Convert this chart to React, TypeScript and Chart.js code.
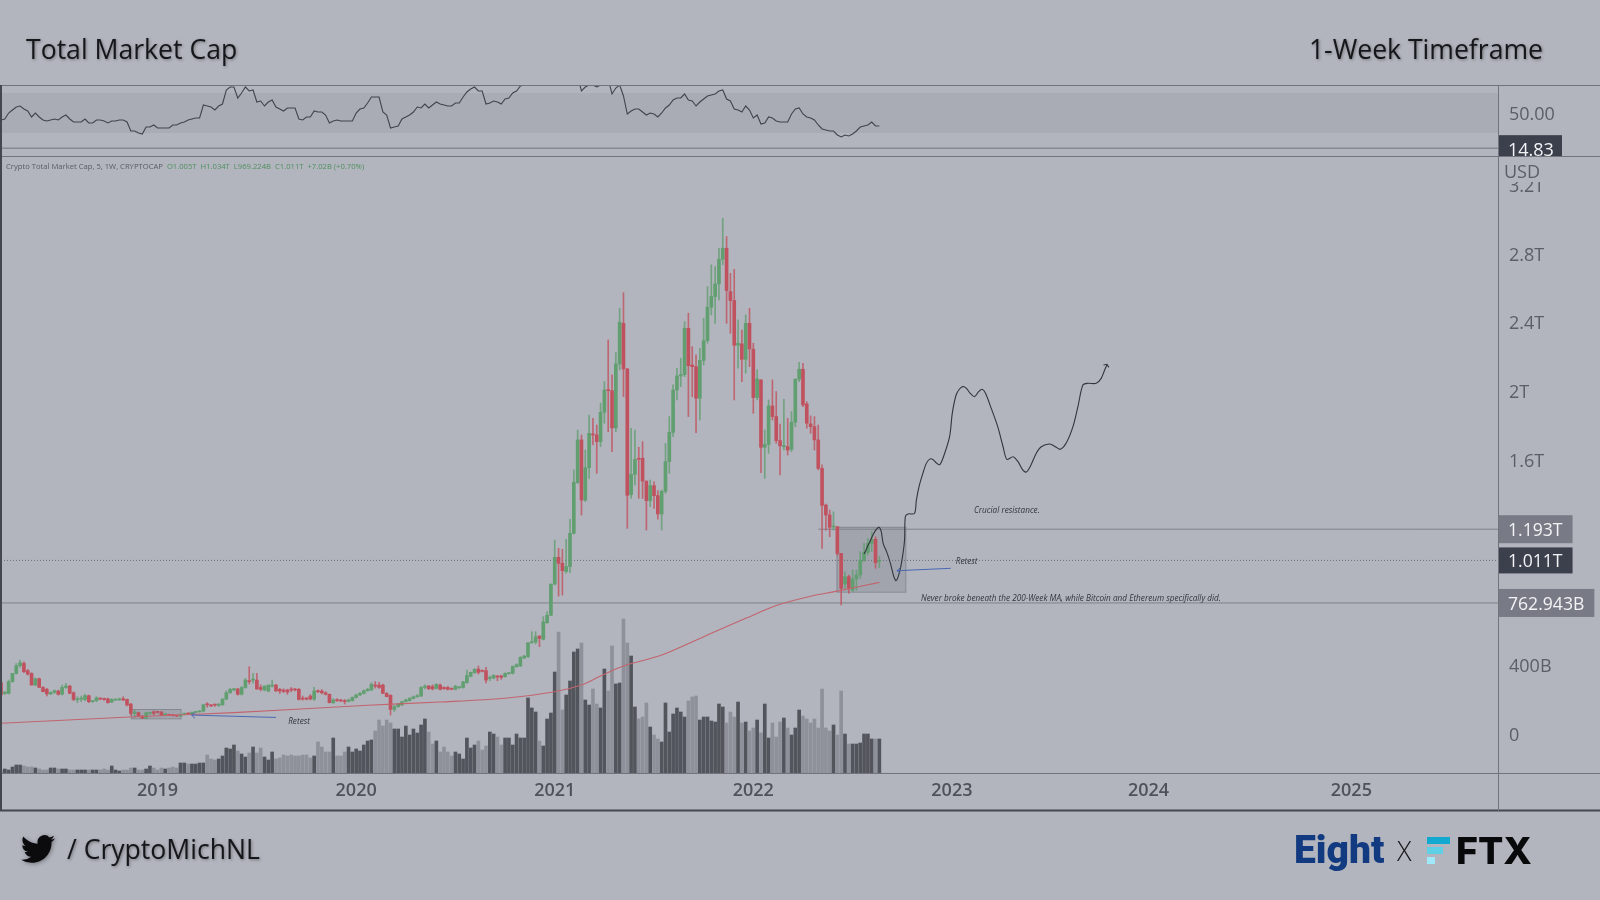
import React, { useEffect, useRef } from "react";
import { Chart, registerables } from "chart.js";

Chart.register(...registerables);

const opens = [
  298,235,235,304,352,397,410,368,352,284,
  321,270,259,232,241,249,230,270,278,239,
  198,202,200,222,187,193,206,204,204,185,
  197,197,204,200,173,119,123,103,90,119,
  128,128,127,111,111,109,106,103,113,119,
  115,125,128,132,172,167,169,165,169,202,
  239,255,261,230,270,309,313,313,270,255,
  249,278,284,259,255,255,259,259,259,206,
  206,220,202,249,249,239,230,181,197,
  197,193,189,193,212,226,235,251,255,
  284,284,284,235,224,142,158,167,187,193,
  206,216,220,270,278,275,265,284,270,270,262,259,
  268,270,298,335,356,377,368,368,323,325,
  337,337,333,350,352,391,395,442,449,531,
  535,570,551,648,691,873,1029,994,947,975,
  1169,1465,1714,1363,1552,1749,1743,1704,1875,2007,
  2001,1784,2157,2394,2128,1395,1513,1607,1607,1474,
  1360,1447,1389,1282,1414,1587,1758,2005,2087,2095,
  2365,2151,2141,1957,2178,2293,2488,2550,2624,2768,
  2832,2579,2527,2266,2274,2184,2394,2243,1961,2064,
  1671,1688,1912,1850,1710,1675,1675,1659,1817,2068,
  2126,1924,1807,1791,1714,1548,1334,1276,1206,1208,
  1052,873,916,838,902,926,1013,1058,1110,1134,1005,
];
const highs = [
  304,245,313,352,410,430,420,375,356,325,
  325,275,265,245,256,255,284,294,282,245,
  216,220,230,226,195,216,210,208,208,205,
  202,208,216,202,177,138,127,108,123,127,
  134,131,130,118,115,112,109,115,122,122,
  128,131,135,172,181,172,173,175,205,250,
  265,265,265,275,323,391,352,352,285,280,
  284,313,288,265,262,260,270,265,265,220,
  212,228,270,256,258,245,232,205,205,
  200,200,202,215,232,242,255,265,298,
  304,300,290,240,228,165,178,190,202,212,
  220,230,275,285,282,285,292,290,274,276,266,282,
  276,305,372,360,381,395,372,387,337,345,
  340,342,355,358,395,408,450,458,531,595,
  595,572,683,712,873,1130,1082,1076,1134,1251,
  1539,1772,1743,1655,1859,1840,1801,1928,2054,2297,
  2093,2223,2482,2573,2132,1782,1772,1671,1704,1474,
  1480,1470,1418,1422,1694,1850,2035,2132,2190,2404,
  2453,2258,2210,2248,2424,2608,2735,2725,2832,3007,
  2900,2686,2709,2414,2355,2443,2482,2278,2122,2064,
  1772,1947,2064,1996,1807,1951,1840,1879,2070,2167,
  2161,1937,1854,1850,1801,1568,1340,1305,1295,1208,
  1052,945,926,955,955,1062,1110,1140,1179,1149,1034,
];
const lows = [
  220,230,232,300,348,387,356,342,284,280,
  270,245,220,228,235,225,226,265,235,193,
  181,187,193,181,183,187,198,195,178,181,
  193,194,193,162,109,95,100,88,88,112,
  109,120,105,105,105,103,100,100,110,112,
  112,122,125,128,155,158,160,160,165,198,
  236,250,225,226,265,290,295,260,250,250,
  245,272,249,235,240,230,245,250,197,196,
  197,198,195,240,232,226,180,177,189,
  188,173,185,190,208,222,232,247,252,
  266,265,235,216,109,130,155,165,185,190,
  203,212,216,262,258,255,260,255,258,255,256,256,
  264,266,295,332,352,348,360,297,309,320,
  309,317,330,347,348,388,392,438,445,527,
  523,508,547,644,688,868,803,809,936,940,
  1165,1460,1276,1354,1490,1684,1519,1675,1811,1762,
  1646,1762,2122,1966,1198,1373,1451,1373,1373,1188,
  1325,1315,1251,1188,1402,1519,1733,1947,2025,2083,
  1850,1966,1756,1830,2151,2278,2443,2394,2530,2735,
  2394,2336,1947,2132,2054,2103,2141,1869,1947,1523,
  1490,1636,1830,1694,1509,1655,1626,1646,1791,2054,
  1908,1782,1752,1655,1539,1081,1188,1149,1188,1042,
  751,848,819,828,838,906,1003,1042,1062,965,969,
];
const closes = [
  226,243,304,352,397,414,362,348,284,321,
  270,245,232,241,251,230,270,278,235,200,
  202,204,222,187,193,210,202,200,181,200,
  200,202,197,167,119,127,103,92,123,123,
  119,125,107,115,107,106,103,113,119,115,
  125,128,132,169,169,162,167,173,202,239,
  259,263,230,270,313,304,317,261,259,278,
  284,284,249,249,247,243,255,255,200,202,
  202,202,249,245,239,230,181,197,193,
  191,187,197,212,226,235,251,259,288,
  278,270,235,216,142,158,173,187,197,206,
  216,220,270,278,262,262,288,259,263,259,260,278,
  274,302,339,358,375,358,364,313,329,340,
  331,329,352,356,393,403,445,453,531,537,
  566,556,652,691,873,1029,994,951,975,1169,
  1467,1714,1363,1552,1752,1743,1704,1875,2005,2001,
  1784,2157,2400,2128,1391,1513,1601,1601,1474,1360,
  1447,1389,1282,1414,1587,1758,2005,2087,2095,2365,
  2147,2141,1957,2178,2293,2488,2550,2624,2768,2832,
  2585,2527,2266,2278,2184,2394,2245,1961,2070,1671,
  1688,1912,1850,1710,1679,1681,1655,1817,2068,2126,
  1918,1811,1791,1714,1548,1332,1276,1204,1212,1052,
  848,916,848,902,926,1013,1058,1110,1134,998,1011,
];
const volumes = [
  3,4,3,6,8,8,7,6,6,5,
  4,3,3,5,5,4,4,4,3,3,
  3,3,3,3,3,3,3,4,3,7,
  3,2,3,3,5,5,3,3,4,7,
  5,3,5,4,5,6,5,10,10,9,
  9,9,10,10,18,14,13,14,17,25,
  24,28,22,19,16,20,26,20,25,16,
  13,21,14,15,18,17,18,17,17,18,
  18,15,17,31,26,21,21,35,17,17,
  21,26,21,24,22,28,32,33,42,53,
  47,53,50,44,44,36,47,38,44,40,
  48,54,41,29,32,21,26,21,17,21,
  19,14,35,25,28,32,23,27,41,39,
  36,28,35,35,28,39,35,35,75,65,
  61,32,27,54,60,101,141,63,78,92,
  121,124,130,73,68,84,69,65,104,82,
  127,89,90,154,130,117,66,54,56,70,
  46,38,34,31,70,41,59,65,61,56,
  72,76,77,53,56,56,52,51,69,66,
  50,61,56,71,50,51,42,45,53,40,
  69,35,50,36,51,55,45,38,45,63,
  57,54,50,54,45,84,45,42,48,38,
  82,39,29,29,29,30,39,39,34,34,34,
];
const rsiValues = [
  43,44,50,53,56,57,54,52,46,50,
  46,43,42,43,44,43,46,48,44,41,
  41,41,44,40,40,43,43,42,40,42,
  42,43,43,41,32,32,30,29,36,36,
  38,35,35,35,35,38,38,40,41,43,
  44,45,45,58,57,56,53,57,59,73,
  76,76,65,70,76,72,73,61,62,57,
  61,63,56,54,52,55,55,55,44,43,
  46,46,52,51,51,48,40,42,43,42,
  42,42,42,50,54,55,60,66,66,66,
  51,48,35,36,37,44,46,48,51,56,
  55,59,55,58,61,59,58,57,57,60,
  60,66,71,74,76,72,72,59,60,62,
  61,59,64,65,70,72,77,78,83,85,
  84,82,85,86,88,95,92,90,88,90,
  92,86,72,76,78,78,76,78,84,84,
  69,75,78,67,49,52,54,54,51,48,
  50,49,46,50,55,58,63,65,65,69,
  63,62,57,61,64,67,68,69,72,73,
  64,62,54,53,51,57,53,45,48,39,
  40,46,45,42,41,41,41,49,54,55,
  49,46,45,43,38,34,33,32,32,28,
  26,28,27,29,32,36,37,38,41,37,37,
];

const maWeeks = [0,35,61,96,115,132,145,152,157,163,173,186,195,203,212,219,230];
const maValues = [61,99,123,166,185,207,245,284,337,395,459,586,673,748,802,832,883];

const projectionWeeks = [
  226,227.5,228.8,229.9,230.5,231,231.9,232.9,233.8,234.4,235.2,236,236.6,236.8,237.5,239.2,239.7,240.5,
  241.4,242.3,243.2,244,244.9,245.8,246.8,248.4,249.1,250.1,251,251.9,252.8,253.8,254.9,256,256.9,257.8,
  259.3,261,262.4,263.4,265,266.3,267.6,268.5,269.5,271.1,272.4,274.6,276.3,277.4,278.9,280.7,282,283.3,
  284.6,286.8,288.1,289,289.6,
];
const projectionValues = [
  1048,1120,1179,1204,1179,1110,1062,994,916,893,935,1023,1130,1266,1282,1285,1363,1451,
  1519,1577,1602,1600,1581,1569,1616,1733,1869,1976,2011,2025,2015,1986,1966,1995,2009,1986,
  1898,1791,1674,1600,1616,1587,1538,1527,1558,1636,1674,1690,1671,1659,1694,1791,1908,2034,
  2044,2044,2073,2122,2151,
];
const projectionHeadWeeks = [288.7,289.6,290.1];
const projectionHeadValues = [2151,2155,2137];

const retestRightWeeks = [248.7,234.6];
const retestRightValues = [965,951];
const retestRightHeadWeeks = [235.5,234.6,235.5];
const retestRightHeadValues = [968,951,935];
const retestLeftWeeks = [72,49.9];
const retestLeftValues = [95,109];
const retestLeftHeadWeeks = [50.8,49.9,50.8];
const retestLeftHeadValues = [123,109,90];

const resistance = 1193;
const lastClose = 1011;
const support = 762.943;
const lastWeek = 392;
const resistanceStartWeek = 214;
const rsiLast = 14.83;

const yearLabels = ["2019","2020","2021","2022","2023","2024","2025"];
const yearWeeks = [41,93,145,197,249,300.5,353.6];
const priceTicks = [0,400,800,1200,1600,2000,2400,2800,3200];
const rsiTicks = [50];

const zoneBoxes = [
  { from: 218.8, to: 236.8, top: 1207, bottom: 829 },
  { from: 34, to: 47, top: 144, bottom: 90 },
];
const notes = [
  { week: 263.4, value: 1304, text: "Crucial resistance.", center: true },
  { week: 250, value: 1001, text: "Retest", center: false },
  { week: 240.9, value: 786, text: "Never broke beneath the 200-Week MA, while Bitcoin and Ethereum specifically did.", center: false },
  { week: 75.2, value: 70, text: "Retest", center: false },
];
const priceTags = [
  { label: "1.193T", value: 1193, dark: false },
  { label: "1.011T", value: 1011, dark: true },
  { label: "762.943B", value: 762.943, dark: false },
];

const BG = "#b2b5be";
const GREEN = "#619e70";
const RED = "#c0525f";
const FONT = '"Open Sans", sans-serif';

const pts = (xs: number[], ys: number[]) => xs.map((x, i) => ({ x, y: ys[i] }));
const fmtPrice = (v: number) => (v === 0 ? "0" : v < 1000 ? `${v}B` : `${v / 1000}T`);

const framePlugin = {
  id: "frame",
  beforeDraw(chart: any) {
    // TradingView sets its axis labels slightly below the tick position.
    for (const id of ["y", "yr"]) {
      const s = chart.scales[id];
      for (const item of s.getLabelItems(chart.chartArea)) {
        if (!item.nudged) {
          item.options.translation[1] += 2;
          item.nudged = true;
        }
      }
    }
  },
  beforeDatasetsDraw(chart: any) {
    const { ctx, chartArea: a, scales } = chart;
    const { x, y, yr } = scales;
    ctx.save();
    // RSI band
    ctx.fillStyle = "#a9acb5";
    const t70 = yr.getPixelForValue(70);
    const t30 = yr.getPixelForValue(30);
    ctx.fillRect(a.left, t70, a.right - a.left, t30 - t70);
    // zones
    for (const b of zoneBoxes) {
      const l = x.getPixelForValue(b.from);
      const r = x.getPixelForValue(b.to);
      const t = y.getPixelForValue(b.top);
      const u = y.getPixelForValue(b.bottom);
      ctx.fillStyle = "rgba(112,115,125,0.25)";
      ctx.fillRect(l, t, r - l, u - t);
      ctx.strokeStyle = "#84878f";
      ctx.lineWidth = 1;
      ctx.strokeRect(l + 0.5, t + 0.5, r - l, u - t);
    }
    ctx.restore();
  },
  afterDatasetsDraw(chart: any) {
    const { ctx, scales } = chart;
    const { x, y } = scales;
    ctx.save();
    ctx.fillStyle = "#33353c";
    ctx.font = `italic 8.2px ${FONT}`;
    ctx.textBaseline = "middle";
    for (const n of notes) {
      ctx.textAlign = n.center ? "center" : "left";
      ctx.fillText(n.text, x.getPixelForValue(n.week), y.getPixelForValue(n.value));
    }
    ctx.restore();
  },
  afterDraw(chart: any) {
    const { ctx, chartArea: a, scales, width } = chart;
    const { y, yr } = scales;
    const axisBottom = scales.x.bottom;
    ctx.save();
    const hline = (py: number, x0: number, x1: number, color: string, w = 1) => {
      ctx.strokeStyle = color;
      ctx.lineWidth = w;
      ctx.beginPath();
      ctx.moveTo(x0, Math.round(py) + 0.5);
      ctx.lineTo(x1, Math.round(py) + 0.5);
      ctx.stroke();
    };
    const vline = (px: number, y0: number, y1: number, color: string, w = 1) => {
      ctx.strokeStyle = color;
      ctx.lineWidth = w;
      ctx.beginPath();
      ctx.moveTo(px, y0);
      ctx.lineTo(px, y1);
      ctx.stroke();
    };
    // USD label covers the top of the price axis
    ctx.fillStyle = BG;
    ctx.fillRect(a.right + 1, yr.bottom, width - a.right, 26);
    ctx.fillStyle = "#5b5e67";
    ctx.font = `18px ${FONT}`;
    ctx.textBaseline = "middle";
    ctx.textAlign = "left";
    ctx.fillText("USD", a.right + 6, yr.bottom + 17);

    // RSI tag clipped to its pane
    ctx.save();
    ctx.beginPath();
    ctx.rect(a.right, yr.top, width - a.right, yr.bottom - yr.top);
    ctx.clip();
    const rp = yr.getPixelForValue(rsiLast);
    ctx.fillStyle = "#3c3f4c";
    ctx.fillRect(a.right, rp - 13, 64, 26);
    ctx.fillStyle = "#f2f3f5";
    ctx.font = `18px ${FONT}`;
    ctx.fillText("14.83", a.right + 10, rp + 3);
    ctx.restore();

    // price tags
    for (const t of priceTags) {
      const p = y.getPixelForValue(t.value);
      ctx.font = `17.6px ${FONT}`;
      const w = ctx.measureText(t.label).width + 20;
      const h = t.dark ? 26 : 28;
      ctx.fillStyle = t.dark ? "#3c3f4c" : "#787a85";
      ctx.fillRect(a.right, p - h / 2, w, h);
      ctx.fillStyle = "#f2f3f5";
      ctx.fillText(t.label, a.right + 10, p + 2);
    }

    // pane frame
    const line = "#72747d";
    hline(yr.top, 0, width, line);
    hline(yr.bottom, 0, width, line);
    hline(a.bottom, 0, width, line);
    hline(axisBottom - 1, 0, width, "#45474f", 2);
    vline(a.right + 0.5, yr.top, axisBottom, line);
    vline(1, yr.top, axisBottom, "#45474f", 2);
    ctx.restore();
  },
};

export default function App() {
  const ref = useRef<HTMLCanvasElement | null>(null);

  useEffect(() => {
    document.body.style.margin = "0";
    document.body.style.background = BG;
    const idx = opens.map((_, i) => i);
    const up = idx.map((i) => closes[i] >= opens[i]);
    const chart = new Chart(ref.current as HTMLCanvasElement, {
      type: "bar",
      plugins: [framePlugin],
      data: {
        datasets: [
          {
            type: "bar", label: "Volume", yAxisID: "yv", order: 10, grouped: false,
            data: idx.map((i) => ({ x: i, y: volumes[i] })),
            backgroundColor: idx.map((i) => (up[i] ? "#53555c" : "#8f919a")),
            barThickness: 3,
          },
          {
            type: "bar", label: "Wick", yAxisID: "y", order: 6, grouped: false,
            data: idx.map((i) => ({ x: i, y: [lows[i], highs[i]] })),
            backgroundColor: idx.map((i) => (up[i] ? "rgba(97,158,112,0.8)" : "rgba(192,82,95,0.8)")),
            barThickness: 1,
          },
          {
            type: "bar", label: "Body", yAxisID: "y", order: 5, grouped: false,
            data: idx.map((i) => ({ x: i, y: [Math.min(opens[i], closes[i]), Math.max(opens[i], closes[i])] })),
            backgroundColor: idx.map((i) => (up[i] ? GREEN : RED)),
            barThickness: 3,
            minBarLength: 1,
          },
          {
            type: "line", label: "200-Week MA", yAxisID: "y", order: 4,
            data: pts(maWeeks, maValues),
            borderColor: "#c2646e", borderWidth: 1.1, pointRadius: 0, tension: 0.3,
          },
          {
            type: "line", label: "Resistance", yAxisID: "y", order: 7,
            data: pts([resistanceStartWeek, lastWeek], [resistance, resistance]),
            borderColor: "#7f828a", borderWidth: 1, pointRadius: 0,
          },
          {
            type: "line", label: "Last", yAxisID: "y", order: 7,
            data: pts([0, lastWeek], [lastClose, lastClose]),
            borderColor: "#6e7079", borderWidth: 1, pointRadius: 0, borderDash: [1, 2],
          },
          {
            type: "line", label: "Support", yAxisID: "y", order: 7,
            data: pts([0, lastWeek], [support, support]),
            borderColor: "#7f828a", borderWidth: 1, pointRadius: 0,
          },
          {
            type: "line", label: "Projection", yAxisID: "y", order: 2,
            data: pts(projectionWeeks, projectionValues),
            borderColor: "#33353c", borderWidth: 1.1, pointRadius: 0, tension: 0.3,
          },
          {
            type: "line", label: "Projection head", yAxisID: "y", order: 2,
            data: pts(projectionHeadWeeks, projectionHeadValues),
            borderColor: "#33353c", borderWidth: 1.1, pointRadius: 0,
          },
          {
            type: "line", label: "Retest arrow", yAxisID: "y", order: 1,
            data: pts(retestRightWeeks, retestRightValues),
            borderColor: "#4a68b4", borderWidth: 1, pointRadius: 0,
          },
          {
            type: "line", label: "Retest head", yAxisID: "y", order: 1,
            data: pts(retestRightHeadWeeks, retestRightHeadValues),
            borderColor: "#4a68b4", borderWidth: 1, pointRadius: 0,
          },
          {
            type: "line", label: "Retest arrow 2", yAxisID: "y", order: 1,
            data: pts(retestLeftWeeks, retestLeftValues),
            borderColor: "#4a68b4", borderWidth: 1, pointRadius: 0,
          },
          {
            type: "line", label: "Retest head 2", yAxisID: "y", order: 1,
            data: pts(retestLeftHeadWeeks, retestLeftHeadValues),
            borderColor: "#4a68b4", borderWidth: 1, pointRadius: 0,
          },
          {
            type: "line", label: "RSI", yAxisID: "yr", order: 3,
            data: idx.map((i) => ({ x: i, y: rsiValues[i] })),
            borderColor: "#42444c", borderWidth: 1.1, pointRadius: 0,
          },
          {
            type: "line", label: "RSI last", yAxisID: "yr", order: 7,
            data: pts([0, lastWeek], [rsiLast, rsiLast]),
            borderColor: "#72747d", borderWidth: 1, pointRadius: 0,
          },
        ],
      },
      options: {
        responsive: false,
        animation: false,
        devicePixelRatio: 1,
        events: [],
        layout: { padding: { left: 1, top: 85, right: 0, bottom: 89 } },
        plugins: { legend: { display: false }, tooltip: { enabled: false }, title: { display: false } },
        scales: {
          x: {
            type: "linear",
            offset: false,
            min: 0,
            max: lastWeek,
            grid: { display: false },
            border: { display: false },
            afterBuildTicks: (s: any) => { s.ticks = yearWeeks.map((value) => ({ value })); },
            afterFit: (s: any) => { s.height = 38; },
            ticks: {
              autoSkip: false,
              maxRotation: 0,
              padding: -1,
              color: "#50525a",
              font: { family: FONT, size: 18, weight: 600 },
              callback: (_: any, i: number) => yearLabels[i],
            },
          },
          yr: {
            position: "right",
            stack: "panes",
            stackWeight: 71,
            min: 7,
            max: 78,
            grid: { display: false },
            border: { display: false },
            afterBuildTicks: (s: any) => { s.ticks = rsiTicks.map((value) => ({ value })); },
            afterFit: (s: any) => { s.width = 102; },
            ticks: {
              autoSkip: false,
              crossAlign: "near",
              padding: 3,
              color: "#5b5e67",
              font: { family: FONT, size: 18 },
              callback: (v: any) => Number(v).toFixed(2),
            },
          },
          y: {
            position: "right",
            stack: "panes",
            stackWeight: 617,
            min: -229,
            max: 3370,
            grid: { display: false },
            border: { display: false },
            afterBuildTicks: (s: any) => { s.ticks = priceTicks.map((value) => ({ value })); },
            afterFit: (s: any) => { s.width = 102; },
            ticks: {
              autoSkip: false,
              crossAlign: "near",
              padding: 3,
              color: "#5b5e67",
              font: { family: FONT, size: 18 },
              callback: (v: any) => fmtPrice(Number(v)),
            },
          },
          yv: { display: false, position: "right", min: 0, max: 688 },
        },
      },
    } as any);
    return () => chart.destroy();
  }, []);

  const shadow = "1px 1px 3px rgba(0,0,0,0.35)";
  const heading: any = { position: "absolute", fontFamily: FONT, fontSize: 26.6, color: "#15161a", textShadow: shadow, whiteSpace: "nowrap", lineHeight: "34px" };
  return (
    <div style={{ position: "absolute", left: 0, top: 0, width: 1600, height: 900, background: BG, overflow: "hidden" }}>
      <canvas ref={ref} width={1600} height={900} style={{ position: "absolute", left: 0, top: 0, display: "block", width: 1600, height: 900 }} />
      <div style={{ ...heading, left: 26, top: 32 }}>Total Market Cap</div>
      <div style={{ ...heading, right: 57, top: 32 }}>1-Week Timeframe</div>
      <div style={{ position: "absolute", left: 6, top: 160, fontFamily: FONT, fontSize: 7.65, lineHeight: "12px", whiteSpace: "pre", color: "#5a5c64" }}>
        Crypto Total Market Cap, 5, 1W, CRYPTOCAP{"  "}
        <span style={{ color: "#4f8f5f" }}>O1.005T{"  "}H1.034T{"  "}L969.224B{"  "}C1.011T{"  "}+7.02B (+0.70%)</span>
      </div>
      <svg viewBox="0 0 24 24" width="34" height="34" style={{ position: "absolute", left: 21, top: 832, filter: "drop-shadow(1px 1px 2px rgba(0,0,0,0.35))" }}>
        <path fill="#0b0b0d" d="M23.953 4.57a10 10 0 01-2.825.775 4.958 4.958 0 002.163-2.723c-.951.555-2.005.959-3.127 1.184a4.92 4.92 0 00-8.384 4.482C7.69 8.095 4.067 6.13 1.64 3.162a4.822 4.822 0 00-.666 2.475c0 1.71.87 3.213 2.188 4.096a4.904 4.904 0 01-2.228-.616v.06a4.923 4.923 0 003.946 4.827 4.996 4.996 0 01-2.212.085 4.936 4.936 0 004.604 3.417 9.867 9.867 0 01-6.102 2.105c-.39 0-.779-.023-1.17-.067a13.995 13.995 0 007.557 2.209c9.053 0 13.998-7.496 13.998-13.985 0-.21 0-.42-.015-.63A9.935 9.935 0 0024 4.59z" />
      </svg>
      <div style={{ ...heading, fontSize: 26.6, left: 67, top: 832 }}>/ CryptoMichNL</div>
      <div style={{ position: "absolute", left: 1294, top: 826, fontFamily: "Roboto, sans-serif", fontWeight: 900, fontSize: 39, lineHeight: "48px", color: "#123a80" }}>Eight</div>
      <div style={{ position: "absolute", left: 1397, top: 834, fontFamily: FONT, fontWeight: 300, fontSize: 27, lineHeight: "34px", color: "#15161a" }}>X</div>
      <div style={{ position: "absolute", left: 1427, top: 837, width: 23, height: 7, background: "#11a9cf" }} />
      <div style={{ position: "absolute", left: 1427, top: 847, width: 16, height: 7, background: "#5fcfe6" }} />
      <div style={{ position: "absolute", left: 1427, top: 857, width: 8, height: 7, background: "#9fe9fb" }} />
      <div style={{ position: "absolute", left: 1456, top: 829, fontFamily: "Inter, sans-serif", fontWeight: 800, fontSize: 37.5, lineHeight: "44px", color: "#08090b", letterSpacing: 0 }}>FTX</div>
    </div>
  );
}
